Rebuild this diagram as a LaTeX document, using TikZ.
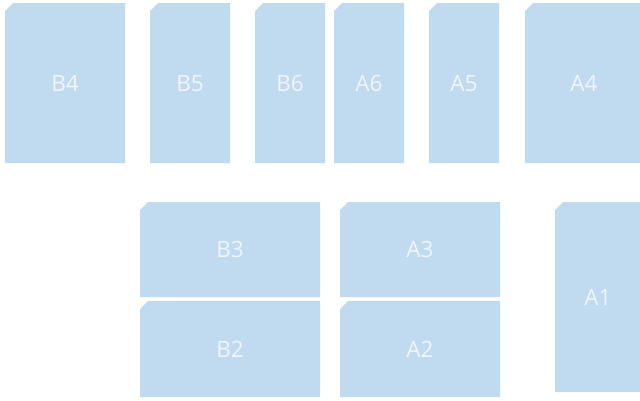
\documentclass[tikz,border=0pt]{standalone}
\usepackage{fontspec}
\setmainfont{Open Sans}
\definecolor{paperblue}{HTML}{C0DAF0}
\definecolor{labelwhite}{HTML}{EEF5FC}
\begin{document}
\begin{tikzpicture}[x=0.25mm,y=-0.25mm,
    paper/.style={fill=paperblue},
    sizelabel/.style={text=labelwhite,font=\fontsize{16}{19}\selectfont,inner sep=0pt,
      text height=11.4pt,text depth=0pt}]
    \useasboundingbox (0,0) rectangle (640,400);
    % sheets: name / left / top / right / bottom
    \foreach \name/\xa/\ya/\xb/\yb in {B4/5/3/125/163, B5/150/3/230/163, B6/255/3/325/163,
        A6/334/3/404/163, A5/429/3/499/163, A4/525/3/643/163,
        B3/140/202/320/297, B2/140/301/320/397, A3/340/202/500/297,
        A2/340/301/500/397, A1/555/202/641/392}
    {
      \fill[paper] (\xa,\ya+8) -- (\xa+8,\ya) -- (\xb,\ya) -- (\xb,\yb) -- (\xa,\yb) -- cycle;
      \node[sizelabel] (\name) at ({(\xa+\xb)/2},{(\ya+\yb)/2}) {\name};
    }
\end{tikzpicture}
\end{document}
